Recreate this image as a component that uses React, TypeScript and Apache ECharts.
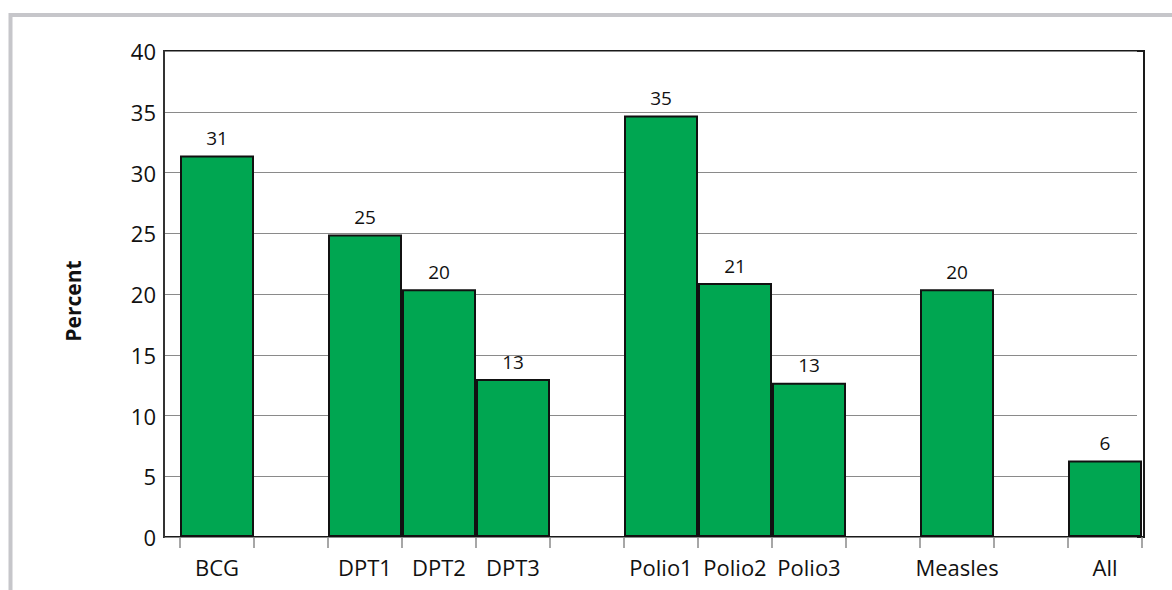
import React, { useEffect, useRef } from "react";
import * as echarts from "echarts";

const categories = ["BCG", "", "DPT1", "DPT2", "DPT3", "", "Polio1", "Polio2", "Polio3", "", "Measles", "", "All"];
const percentValues: (number | null)[] = [31.4, null, 24.9, 20.4, 13.0, null, 34.7, 20.9, 12.7, null, 20.4, null, 6.3];
const yTicks = { min: 0, max: 40, interval: 5 };
const yAxisTitle = "Percent";

const FONT = "'Open Sans', 'Liberation Sans', sans-serif";

export default function App() {
  const ref = useRef<HTMLDivElement>(null);
  useEffect(() => {
    if (!ref.current) return;
    const chart = echarts.init(ref.current, null, { renderer: "svg" });
    chart.setOption({
      animation: false,
      backgroundColor: "#ffffff",
      textStyle: { fontFamily: FONT },
      graphic: [
        { type: "line", shape: { x1: 10, y1: 15, x2: 1172, y2: 15 }, style: { stroke: "#c6c6ca", lineWidth: 4 } },
        { type: "line", shape: { x1: 10.5, y1: 13, x2: 10.5, y2: 590 }, style: { stroke: "#c6c6ca", lineWidth: 4 } },
        {
          type: "text",
          x: 73,
          y: 301,
          rotation: Math.PI / 2,
          style: {
            text: yAxisTitle,
            font: `bold 21px ${FONT}`,
            fill: "#111",
            align: "center",
            verticalAlign: "middle",
          },
        },
      ],
      grid: [
        { left: 164, right: 28, top: 51, bottom: 53, show: true, borderColor: "#1a1a1a", borderWidth: 2, backgroundColor: "transparent" },
        { left: 164, right: 35, top: 51, bottom: 53 },
        { left: 180, right: 30, top: 51, bottom: 53 },
      ],
      xAxis: [
        { gridIndex: 0, type: "category", data: categories, show: false },
        { gridIndex: 1, type: "category", data: categories, show: false },
        {
          gridIndex: 2,
          type: "category",
          data: categories,
          offset: 5,
          axisLine: { show: false },
          axisTick: { show: true, alignWithLabel: false, length: 11, lineStyle: { color: "#8a8a8a", width: 1.5 } },
          axisLabel: { color: "#111", fontSize: 22, fontFamily: FONT, margin: 14, interval: 0 },
        },
      ],
      yAxis: [
        {
          gridIndex: 0,
          type: "value",
          min: yTicks.min,
          max: yTicks.max,
          interval: yTicks.interval,
          axisLine: { show: true, lineStyle: { color: "#333", width: 2 } },
          axisTick: { show: false },
          splitLine: { show: false },
          axisLabel: { color: "#111", fontSize: 22, fontFamily: FONT, margin: 8 },
        },
        {
          gridIndex: 1,
          type: "value",
          min: yTicks.min,
          max: yTicks.max,
          interval: yTicks.interval,
          axisLine: { show: false },
          axisTick: { show: false },
          axisLabel: { show: false },
          splitLine: { show: true, lineStyle: { color: "#8a8a8a", width: 1.2 } },
        },
        {
          gridIndex: 2,
          type: "value",
          min: yTicks.min,
          max: yTicks.max,
          interval: yTicks.interval,
          show: false,
          splitLine: { show: false },
        },
      ],
      series: [
        {
          type: "bar",
          xAxisIndex: 2,
          yAxisIndex: 2,
          data: percentValues,
          barCategoryGap: "0%",
          itemStyle: { color: "#00a651", borderColor: "#111", borderWidth: 2 },
          label: {
            show: true,
            position: "top",
            distance: 8,
            color: "#111",
            fontSize: 19,
            fontFamily: FONT,
            formatter: (p: any) => (p.value == null ? "" : String(Math.round(p.value))),
          },
        },
      ],
    });
    return () => chart.dispose();
  }, []);
  return <div ref={ref} style={{ position: "fixed", left: 0, top: 0, width: 1172, height: 590 }} />;
}
